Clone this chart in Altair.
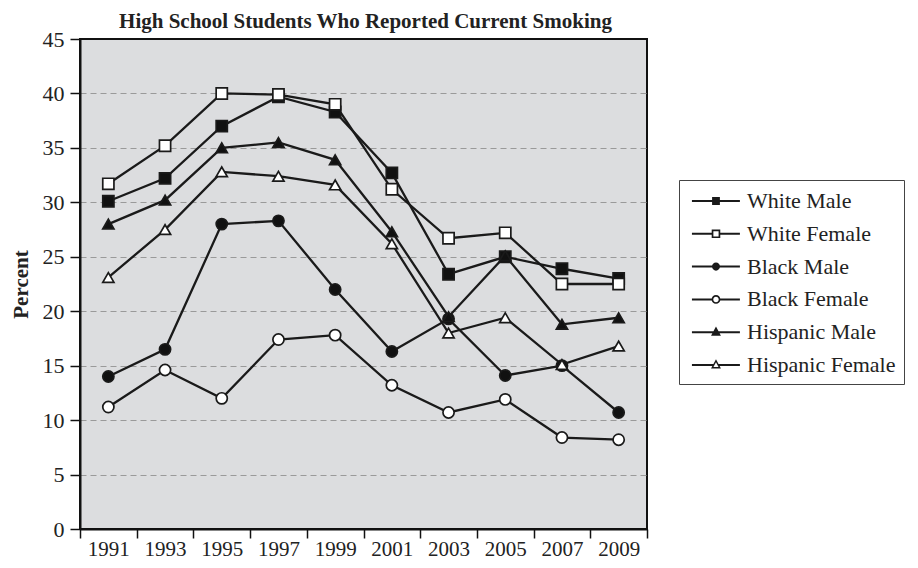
import math
import altair as alt
import pandas as pd

years = [1991, 1993, 1995, 1997, 1999, 2001, 2003, 2005, 2007, 2009]
series_names = ["White Male", "White Female", "Black Male", "Black Female",
                "Hispanic Male", "Hispanic Female"]
white_male = [30.1, 32.2, 37.0, 39.7, 38.3, 32.7, 23.4, 25.0, 23.9, 23.0]
white_female = [31.7, 35.2, 40.0, 39.9, 39.0, 31.2, 26.7, 27.2, 22.5, 22.5]
black_male = [14.0, 16.5, 28.0, 28.3, 22.0, 16.3, 19.3, 14.1, 15.0, 10.7]
black_female = [11.2, 14.6, 12.0, 17.4, 17.8, 13.2, 10.7, 11.9, 8.4, 8.2]
hispanic_male = [28.0, 30.2, 35.0, 35.5, 33.9, 27.3, 19.5, 25.1, 18.8, 19.4]
hispanic_female = [23.1, 27.5, 32.8, 32.4, 31.6, 26.2, 18.0, 19.4, 15.1, 16.8]
y_ticks = [0, 5, 10, 15, 20, 25, 30, 35, 40, 45]
title_text = "High School Students Who Reported Current Smoking"

values = [white_male, white_female, black_male, black_female, hispanic_male, hispanic_female]
rows = []
for name, vals in zip(series_names, values):
    for yr, v in zip(years, vals):
        rows.append({"year": yr, "series": name, "pct": v})
df = pd.DataFrame(rows)

FONT = "Liberation Serif"

# marker styles (plot)
plot_shapes = ["square", "square", "circle", "circle", "triangle-up", "triangle-up"]
plot_fills = ["#111", "white", "#111", "white", "#111", "white"]
plot_sizes = [125, 125, 90, 100, 140, 150]

# legend symbols: line with marker, drawn as filled outlines (unit = 13 px)
CX = 1.23
L0, L1 = -0.62, 3.07
T = 0.077  # half line thickness
RING = 0.13


def f(v):
    return f"{v:.3f}"


def rect(x0, x1):
    return f"M{f(x0)},{f(-T)}H{f(x1)}V{f(T)}H{f(x0)}Z"


def lines_for(half):
    return rect(L0, CX - half + 0.04) + rect(CX + half - 0.04, L1)


def square(h, cw=True):
    if cw:
        return f"M{f(CX-h)},{f(-h)}H{f(CX+h)}V{f(h)}H{f(CX-h)}Z"
    return f"M{f(CX-h)},{f(-h)}V{f(h)}H{f(CX+h)}V{f(-h)}Z"


def circle(r, cw=True):
    s = 1 if cw else 0
    return (f"M{f(CX+r)},0A{f(r)},{f(r)} 0 1,{s} {f(CX-r)},0"
            f"A{f(r)},{f(r)} 0 1,{s} {f(CX+r)},0Z")


def tri_pts(w, top, bot):
    return [(CX, -top), (CX + w, bot), (CX - w, bot)]


def tri(pts, cw=True):
    a, b, c = pts
    if not cw:
        b, c = c, b
    return f"M{f(a[0])},{f(a[1])}L{f(b[0])},{f(b[1])}L{f(c[0])},{f(c[1])}Z"


def inner_tri(w, top, bot, d):
    h = top + bot
    side = math.hypot(w, h)
    a_len, b_len, c_len = 2 * w, side, side
    pts = tri_pts(w, top, bot)
    per = a_len + b_len + c_len
    ix = (a_len * pts[0][0] + b_len * pts[1][0] + c_len * pts[2][0]) / per
    iy = (a_len * pts[0][1] + b_len * pts[1][1] + c_len * pts[2][1]) / per
    r = (w * h) / (per / 2)
    k = (r - d) / r
    return [(ix + k * (px - ix), iy + k * (py - iy)) for px, py in pts]


tw, tt, tb = 0.38, 0.44, 0.27
tri_half_at_line = tw * tt / (tt + tb)
legend_paths = [
    lines_for(0.30) + square(0.30),
    lines_for(0.33) + square(0.33) + square(0.33 - RING, cw=False),
    lines_for(0.31) + circle(0.31),
    lines_for(0.34) + circle(0.34) + circle(0.34 - RING, cw=False),
    lines_for(tri_half_at_line) + tri(tri_pts(tw, tt, tb)),
    lines_for(tri_half_at_line) + tri(tri_pts(tw, tt, tb))
    + tri(inner_tri(tw, tt, tb, 0.11), cw=False),
]

band = alt.Scale(type="band", paddingInner=0, paddingOuter=0)

x_enc = alt.X(
    "year:O", scale=band, bandPosition=0.5, title=None,
    axis=alt.Axis(
        orient="bottom", tickBand="extent", labelAngle=0, labelFont=FONT,
        labelFontSize=21, labelColor="#222", tickSize=9, tickWidth=1.5,
        tickColor="#111", domainColor="#111", domainWidth=2, labelPadding=0,
        grid=False,
    ),
)
x_noaxis = alt.X("year:O", scale=band, bandPosition=0.5, title=None, axis=None)
x_title = alt.X(
    "year:O", scale=band, bandPosition=0.5, title=title_text,
    axis=alt.Axis(
        orient="top", labels=False, ticks=False, domain=False, grid=False,
        titleFont=FONT, titleFontSize=21, titleFontWeight="bold",
        titleColor="#222", titleX=285, titleY=-12, titleAlign="center",
        titleBaseline="alphabetic",
    ),
)
y_enc = alt.Y(
    "pct:Q",
    scale=alt.Scale(domain=[0, 45], nice=False),
    axis=alt.Axis(
        values=y_ticks, title="Percent", titleFont=FONT, titleFontSize=21,
        titleFontWeight="bold", titleColor="#222", titleAngle=-90,
        titleX=-53, titleY=245, titleAlign="center", titleBaseline="alphabetic",
        labelFont=FONT, labelFontSize=22, labelColor="#222", labelPadding=6,
        tickSize=10, tickWidth=1.5, tickColor="#111", domainColor="#111",
        domainWidth=2, grid=True, gridDash=[6, 4], gridColor="#9a9a9a",
        gridWidth=1.2,
        gridOpacity={"condition": {"test": "datum.value == 45 || datum.value == 0", "value": 0}, "value": 1},
    ),
)

base = alt.Chart(df)

lines = base.mark_line(color="#1a1a1a", strokeWidth=2.3).encode(
    x=x_enc, y=y_enc, detail="series:N"
)

points = base.mark_point(stroke="#1a1a1a", strokeWidth=1.7, opacity=1).encode(
    x=x_noaxis,
    y=y_enc,
    shape=alt.Shape("series:N", scale=alt.Scale(domain=series_names, range=plot_shapes), legend=None),
    fill=alt.Fill("series:N", scale=alt.Scale(domain=series_names, range=plot_fills), legend=None),
    size=alt.Size("series:N", scale=alt.Scale(domain=series_names, range=plot_sizes), legend=None),
)

legend_layer = base.transform_filter("false").mark_point(
    filled=True, color="#1a1a1a", opacity=1
).encode(
    x=x_title,
    y=y_enc,
    shape=alt.Shape(
        "series:N",
        scale=alt.Scale(domain=series_names, range=legend_paths),
        title=None,
        legend=alt.Legend(
            orient="none", legendX=599, legendY=141, padding=8,
            strokeColor="#444", fillColor="white", cornerRadius=0,
            symbolSize=676, symbolFillColor="#1a1a1a",
            symbolStrokeColor="transparent", symbolStrokeWidth=0,
            labelFont=FONT, labelFontSize=22, labelColor="#222",
            labelOffset=34, rowPadding=8.8, labelLimit=300,
        ),
    ),
)

chart = alt.layer(lines, points, legend_layer).resolve_scale(
    shape="independent", fill="independent", size="independent"
).properties(
    width=567,
    height=490,
    autosize=alt.AutoSizeParams(type="none"),
    padding={"left": 72, "top": 31, "right": 263, "bottom": 31},
).configure_view(
    fill="#dcdddf", stroke="#111", strokeWidth=2
)

chart.save("out.html", embed_options={"renderer": "svg", "actions": False})
